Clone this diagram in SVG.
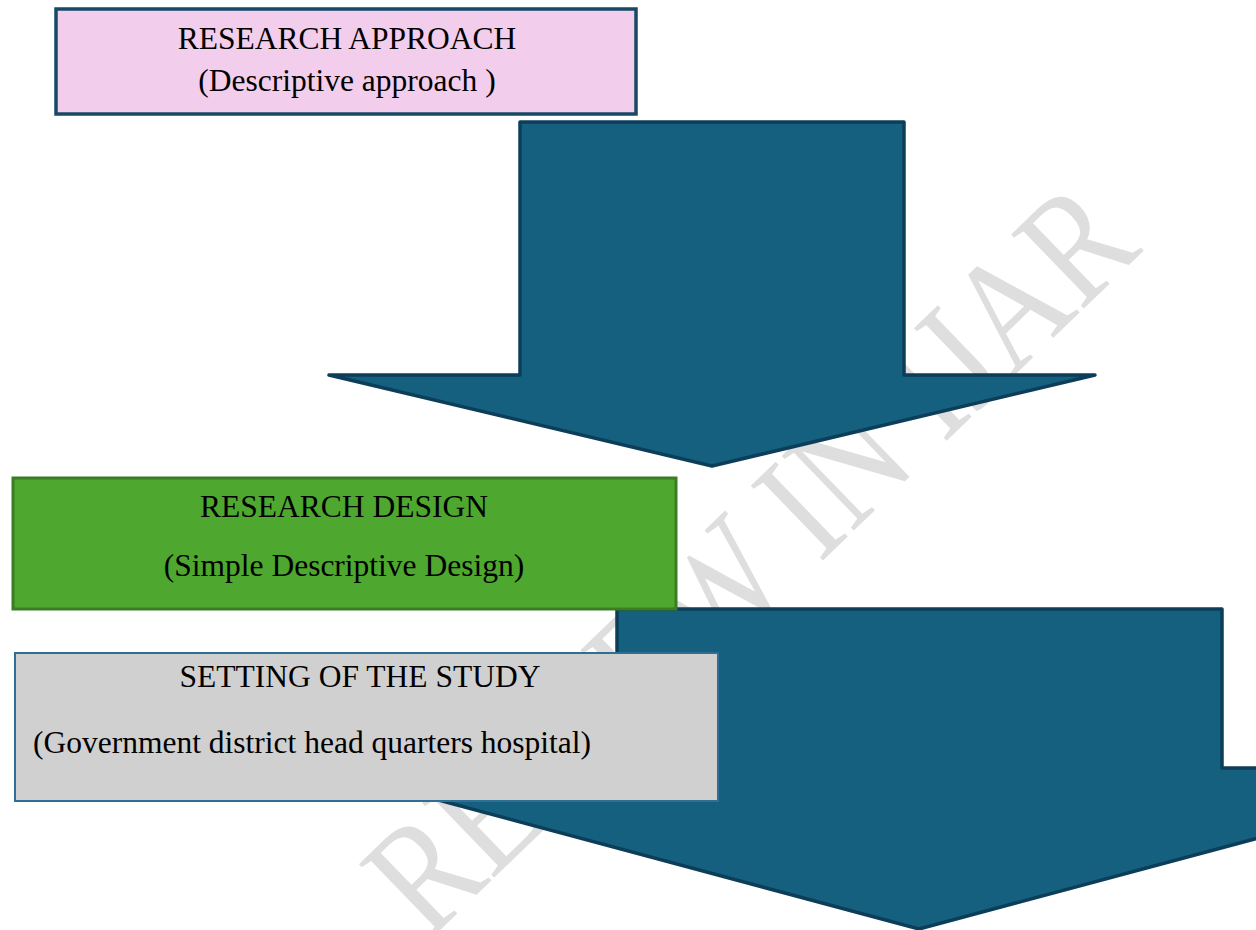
<svg xmlns="http://www.w3.org/2000/svg" width="1256" height="930" viewBox="0 0 1256 930">
  <style>
    .t { font-family: "Liberation Serif", "Times New Roman", serif; font-size: 31.5px; fill: #000; }
    .arrow { fill: #16607f; stroke: #0c3e59; stroke-width: 3.5; stroke-linejoin: round; }
    .wm { font-family: "Liberation Serif", "Times New Roman", serif; font-size: 132px; fill: #dedede; }
  </style>
  <rect x="0" y="0" width="1256" height="930" fill="#ffffff"/>
  <text class="wm" text-anchor="middle" transform="translate(786,596) rotate(-44) scale(1,1.2)">REVIEW IN IJAR</text>
  <g id="connectors">
    <path class="arrow" d="M520,122 L904,122 L904,375 L1095,375 L712,466 L329,375 L520,375 Z"/>
    <path class="arrow" d="M617,609 L1222,609 L1222,768 L1519,768 L919,929 L319,768 L617,768 Z"/>
  </g>
  <g id="node-approach">
    <rect x="56" y="9" width="580" height="105" fill="#f2cdec" stroke="#174966" stroke-width="3.5"/>
    <text class="t" x="347" y="49" text-anchor="middle">RESEARCH APPROACH</text>
    <text class="t" x="347" y="91" text-anchor="middle">(Descriptive approach )</text>
  </g>
  <g id="node-design">
    <rect x="13" y="478" width="663" height="131" fill="#4ea72e" stroke="#3a7d22" stroke-width="3"/>
    <text class="t" x="344" y="517" text-anchor="middle">RESEARCH DESIGN</text>
    <text class="t" x="344" y="576" text-anchor="middle">(Simple Descriptive Design)</text>
  </g>
  <g id="node-setting">
    <rect x="15" y="653" width="703" height="148" fill="#d0d0d0" stroke="#2f6f96" stroke-width="2"/>
    <text class="t" x="360" y="687" text-anchor="middle">SETTING OF THE STUDY</text>
    <text class="t" x="33" y="753">(Government district head quarters hospital)</text>
  </g>
</svg>
